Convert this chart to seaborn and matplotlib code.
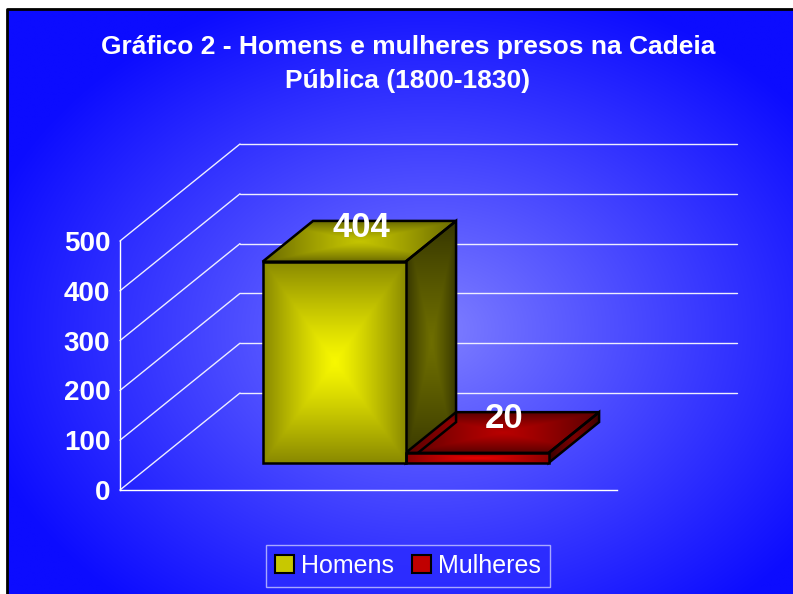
import numpy as np
import pandas as pd
import matplotlib
matplotlib.use('Agg')
import matplotlib.pyplot as plt
import seaborn as sns
from matplotlib.transforms import Affine2D
from matplotlib.patches import Polygon, Patch

# datos del grafico
series = ['Homens', 'Mulheres']
presos = [404, 20]
periodo = ['1800-1830', '1800-1830']
marcas_y = [0, 100, 200, 300, 400, 500]
titulo = 'Gráfico 2 - Homens e mulheres presos na Cadeia\nPública (1800-1830)'

# colores (centro, borde) de cada cara
cor_frente = {'Homens': ('#f8f800', '#8a8a00'), 'Mulheres': ('#e80000', '#8a0000')}
cor_topo = {'Homens': ('#c4c400', '#6a6a00'), 'Mulheres': ('#b80000', '#5a0000')}
cor_lado = {'Homens': ('#6e6e00', '#363600'), 'Mulheres': ('#7a0000', '#3a0000')}
cor_plana = {'Homens': '#c8c800', 'Mulheres': '#c00000'}

W, H = 793, 594
fuente = ['Liberation Sans Narrow', 'Liberation Sans']

sns.set_style('white')
plt.rcParams['font.family'] = ['Liberation Sans', 'DejaVu Sans']

fig = plt.figure(figsize=(W / 100, H / 100), dpi=100, facecolor='white')

# capa de fondo en pixeles
fondo = fig.add_axes([0, 0, 1, 1], zorder=0)
fondo.set_xlim(0, W)
fondo.set_ylim(0, H)
fondo.axis('off')


def degradado(c_centro, c_borde, n=80, ny=None):
    # degradado rectangular desde el centro, como el de excel
    ny = ny or n
    u = np.linspace(-1, 1, n)
    v = np.linspace(-1, 1, ny)
    uu, vv = np.meshgrid(u, v)
    t = np.maximum(np.abs(uu), np.abs(vv)) ** 1.2
    a = np.array(matplotlib.colors.to_rgb(c_centro))
    b = np.array(matplotlib.colors.to_rgb(c_borde))
    return a * (1 - t[..., None]) + b * t[..., None]


# fondo azul radial
xs = np.linspace(7, W, 400)
ys = np.linspace(9, H, 300)
gx, gy = np.meshgrid(xs, ys)
r = np.sqrt(((gx - 430) / 470) ** 2 + ((gy - 330) / 360) ** 2)
t = np.clip(r, 0, 1) ** 0.9
claro = np.array([130, 130, 255]) / 255
oscuro = np.array([12, 12, 255]) / 255
img = claro * (1 - t[..., None]) + oscuro * t[..., None]
fondo.imshow(img, extent=(7, W, 0, H - 9), origin='upper', aspect='auto', interpolation='bilinear')
fondo.plot([7, 7, W], [0, H - 9, H - 9], color='black', lw=2, solid_capstyle='butt')
fondo.set_xlim(0, W)
fondo.set_ylim(0, H)

# capa para las caras laterales y superiores
caras = fig.add_axes([0, 0, 1, 1], zorder=1)
caras.set_xlim(0, W)
caras.set_ylim(0, H)
caras.axis('off')

# ejes principales (plano frontal)
ax = fig.add_axes([120 / W, 104 / H, 497 / W, 249 / H], zorder=2)
ax.patch.set_alpha(0)

df = pd.DataFrame({'periodo': periodo, 'presos': presos, 'sexo': series})
sns.barplot(data=df, x='periodo', y='presos', hue='sexo', hue_order=series,
            palette=cor_plana, legend=False, ax=ax)

ax.set_xlim(-0.705, 0.685)
ax.set_ylim(0, 500)
ax.set_yticks(marcas_y)
ax.set_xticks([])
ax.set_xlabel('')
ax.set_ylabel('')
for lado in ['top', 'right']:
    ax.spines[lado].set_visible(False)
for lado in ['left', 'bottom']:
    ax.spines[lado].set_color('white')
    ax.spines[lado].set_linewidth(1)
ax.tick_params(axis='y', colors='white', length=5, width=1, direction='out', pad=2)
for lab in ax.get_yticklabels():
    lab.set_fontfamily(fuente)
    lab.set_fontweight('bold')
    lab.set_fontsize(20)

# profundidad (pixeles)
D = np.array([120.0, 97.0])
f0, f1 = 0.28, 0.70
off_frente = f0 * D
off_fondo = f1 * D

# pared del fondo y lateral
x_izq, x_der = ax.get_xlim()
for v in marcas_y:
    p_izq = ax.transData.transform((x_izq, v))
    p_der = ax.transData.transform((x_der, v))
    fondo.plot([p_izq[0] + D[0], p_der[0] + D[0]], [p_izq[1] + D[1], p_der[1] + D[1]],
               color='#eeeeff', lw=1)
    fondo.plot([p_izq[0], p_izq[0] + D[0]], [p_izq[1], p_izq[1] + D[1]], color='#eeeeff', lw=1)

# barras en 3d
for cont, nombre, valor in zip(ax.containers, series, presos):
    barra = cont.patches[0]
    tr = ax.transData + Affine2D().translate(*off_frente)
    barra.set_transform(tr)
    x0 = barra.get_x()
    x1 = x0 + barra.get_width()
    h = barra.get_height()
    im = ax.imshow(degradado(*cor_frente[nombre]), extent=(x0, x1, 0, h), transform=tr,
                   aspect='auto', interpolation='bilinear', zorder=3)
    im.set_clip_path(barra)
    barra.set_facecolor('none')
    barra.set_edgecolor('black')
    barra.set_linewidth(1.8)
    barra.set_zorder(4)

    esq = ax.transData.transform([(x0, 0), (x1, 0), (x1, h), (x0, h)]) + off_frente
    bi, bd, td, ti = esq
    prof = off_fondo - off_frente
    lado = [bd, td, td + prof, bd + prof]
    topo = [ti, td, td + prof, ti + prof]
    for pts, cor in [(lado, cor_lado[nombre]), (topo, cor_topo[nombre])]:
        pts = np.array(pts)
        poli = Polygon(pts, closed=True, facecolor='none', edgecolor='black', lw=1.8, zorder=3)
        caras.add_patch(poli)
        g = caras.imshow(degradado(*cor), extent=(pts[:, 0].min(), pts[:, 0].max(),
                                                  pts[:, 1].min(), pts[:, 1].max()),
                         aspect='auto', interpolation='bilinear', zorder=2)
        g.set_clip_path(poli)

    ax.annotate(str(valor), xy=((x0 + x1) / 2, h), xycoords='data',
                xytext=off_frente + prof / 2 + np.array([2, 14]), textcoords='offset pixels',
                ha='center', va='center', color='white', fontsize=25, fontweight='bold',
                fontfamily=fuente, zorder=6)

caras.set_xlim(0, W)
caras.set_ylim(0, H)
ax.set_xlim(x_izq, x_der)
ax.set_ylim(0, 500)

# titulo
fig.text(408 / W, 1 - 64 / H, titulo, ha='center', va='center', color='white',
         fontsize=19, fontweight='bold', fontfamily=fuente, linespacing=1.5)

# leyenda
manijas = [Patch(facecolor=cor_plana[s], edgecolor='black', lw=1.5) for s in series]
ley = fig.legend(manijas, series, loc='center', bbox_to_anchor=(408 / W, 1 - 566 / H),
                 ncol=2, frameon=True, fancybox=False, facecolor='#2c2cff', edgecolor='#c8c8ff',
                 fontsize=18, labelcolor='white', handlelength=0.75, handleheight=0.75,
                 handletextpad=0.3, columnspacing=0.7, borderpad=0.35, borderaxespad=0)
ley.get_frame().set_linewidth(1)
ley.set_zorder(5)

fig.savefig('out.png', dpi=100, facecolor='white')
